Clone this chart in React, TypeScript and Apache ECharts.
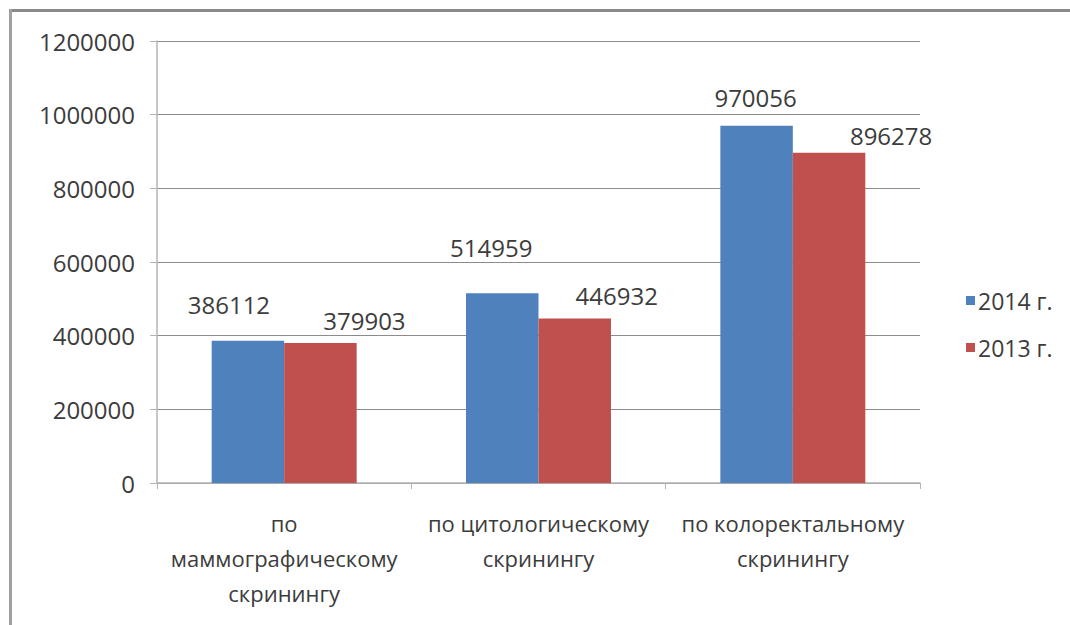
import React, { useEffect, useRef } from "react";
import * as echarts from "echarts";

// Screening coverage, 2014 vs 2013
const categories = [
  "по\nмаммографическому\nскринингу",
  "по цитологическому\nскринингу",
  "по колоректальному\nскринингу",
];
const series2014 = [386112, 514959, 970056];
const series2013 = [379903, 446932, 896278];
const yTicks = { min: 0, max: 1200000, interval: 200000 };

// Manual nudges of the value labels (px) relative to the top of each bar
const offsets2014: [number, number][] = [[-19, -24], [-11, -34], [-1, -16]];
const offsets2013: [number, number][] = [[44, -11], [42, -11], [62, -5]];

const FONT = "'Open Sans', 'Liberation Sans', sans-serif";
const TEXT = "#3c3c3c";

export default function App() {
  const ref = useRef<HTMLDivElement>(null);

  useEffect(() => {
    if (!ref.current) return;
    const chart = echarts.init(ref.current, undefined, { renderer: "svg" });

    const labelled = (vals: number[], offs: [number, number][]) =>
      vals.map((v, i) => ({
        value: v,
        label: {
          show: true,
          position: "top",
          distance: 0,
          offset: offs[i],
          fontSize: 24,
          lineHeight: 24,
          color: TEXT,
          fontFamily: FONT,
        },
      }));

    chart.setOption({
      animation: false,
      backgroundColor: "#ffffff",
      textStyle: { fontFamily: FONT },
      grid: {
        left: 157,
        right: 150,
        top: 41,
        bottom: 142,
        outerBoundsMode: "none",
        containLabel: false,
      },
      legend: {
        orient: "vertical",
        left: 961,
        top: 284,
        itemWidth: 9,
        itemHeight: 9,
        itemGap: 24,
        icon: "rect",
        textStyle: { fontSize: 23, color: TEXT, fontFamily: FONT, padding: [0, 0, 0, -2] },
        data: ["2014 г.", "2013 г."],
      },
      xAxis: {
        type: "category",
        data: categories,
        axisLine: { lineStyle: { color: "#b4b4b4", width: 1.5 } },
        axisTick: { show: true, length: 6, lineStyle: { color: "#b4b4b4" } },
        axisLabel: {
          interval: 0,
          margin: 22,
          fontSize: 22,
          lineHeight: 35,
          color: TEXT,
          fontFamily: FONT,
        },
      },
      yAxis: {
        type: "value",
        min: yTicks.min,
        max: yTicks.max,
        interval: yTicks.interval,
        axisLine: { show: true, lineStyle: { color: "#b4b4b4", width: 1.5 } },
        axisTick: { show: true, length: 7, lineStyle: { color: "#b4b4b4" } },
        splitLine: { lineStyle: { color: "#8c8c8c", width: 1.2 } },
        axisLabel: {
          margin: 22,
          fontSize: 24,
          color: TEXT,
          fontFamily: FONT,
          formatter: (v: number) => String(v),
        },
      },
      series: [
        {
          name: "2014 г.",
          type: "bar",
          data: labelled(series2014, offsets2014),
          itemStyle: { color: "#4f81bd" },
          barGap: "0%",
          barCategoryGap: "43%",
        },
        {
          name: "2013 г.",
          type: "bar",
          data: labelled(series2013, offsets2013),
          itemStyle: { color: "#c0504d" },
          barGap: "0%",
          barCategoryGap: "43%",
        },
      ],
      graphic: [
        { type: "rect", shape: { x: 9, y: 9, width: 1061, height: 3 }, style: { fill: "#8a8a8a" } },
        { type: "rect", shape: { x: 9, y: 9, width: 3, height: 616 }, style: { fill: "#a0a0a0" } },
      ],
    });

    return () => chart.dispose();
  }, []);

  return (
    <div
      ref={ref}
      style={{ position: "fixed", left: 0, top: 0, width: 1070, height: 625 }}
    />
  );
}
